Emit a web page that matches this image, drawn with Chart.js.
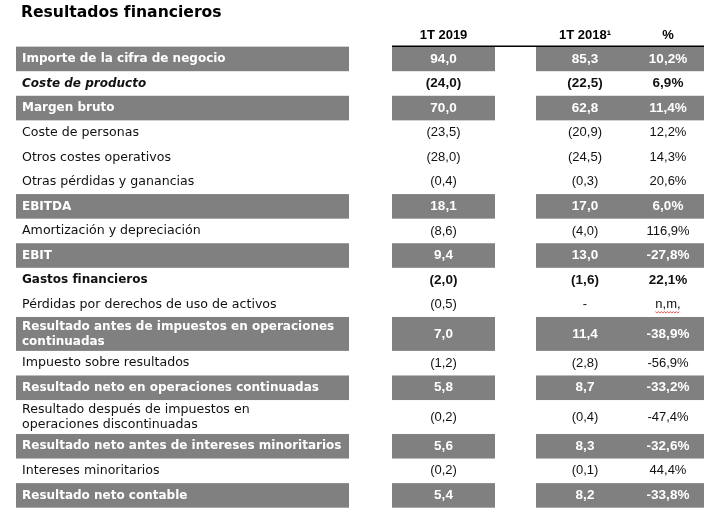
<!DOCTYPE html>
<html lang="es">
<head>
<meta charset="utf-8">
<title>Resultados financieros</title>
<script src="https://cdn.jsdelivr.net/npm/chart.js"></script>
<style>
  html, body { margin: 0; padding: 0; background: #fff; }
  #wrap { width: 720px; height: 521px; position: relative; }
</style>
</head>
<body>
<div id="wrap"><canvas id="resultados"></canvas></div>
<script>
const rowLabels = [
    'Importe de la cifra de negocio',
    'Coste de producto',
    'Margen bruto',
    'Coste de personas',
    'Otros costes operativos',
    'Otras pérdidas y ganancias',
    'EBITDA',
    'Amortización y depreciación',
    'EBIT',
    'Gastos financieros',
    'Pérdidas por derechos de uso de activos',
    'Resultado antes de impuestos en operaciones\ncontinuadas',
    'Impuesto sobre resultados',
    'Resultado neto en operaciones continuadas',
    'Resultado después de impuestos en\noperaciones discontinuadas',
    'Resultado neto antes de intereses minoritarios',
    'Intereses minoritarios',
    'Resultado neto contable'
];
const q1_2019 = [94.0, -24.0, 70.0, -23.5, -28.0, -0.4, 18.1, -8.6, 9.4, -2.0, -0.5, 7.0, -1.2, 5.8, -0.2, 5.6, -0.2, 5.4];
const q1_2018 = [85.3, -22.5, 62.8, -20.9, -24.5, -0.3, 17.0, -4.0, 13.0, -1.6, null, 11.4, -2.8, 8.7, -0.4, 8.3, -0.1, 8.2];
const pctChange = [10.2, 6.9, 11.4, 12.2, 14.3, 20.6, 6.0, 116.9, -27.8, 22.1, null, -38.9, -56.9, -33.2, -47.4, -32.6, 44.4, -33.8];
const columnHeaders = ['1T 2019', '1T 2018¹', '%'];
// what kind of line each row is in the report
const rowKinds = ['total', 'boldItalic', 'total', 'plain', 'plain', 'plain', 'total', 'plain', 'total',
    'bold', 'plain', 'total', 'plain', 'total', 'plain', 'total', 'plain', 'total'];

const GREY = '#808080';
const INK = '#111';
const LABEL_FONT = '"DejaVu Sans", Verdana, sans-serif';
const NUM_FONT = '"Liberation Sans", Arial, sans-serif';

// table layout, x in canvas units
const layout = {
    labelBox: [16, 349],
    labelX: 22,
    box2019: [392, 495],
    box2018: [536, 704],
    colCenters: [443.5, 585, 668],
    doubleRow: 1.38,
    linePitch: 15
};

function fmtNum(v) {
    if (v === null) return '-';
    const s = Math.abs(v).toFixed(1).replace('.', ',');
    return v < 0 ? '(' + s + ')' : s;
}
function fmtPct(v) {
    if (v === null) return 'n,m,';
    return v.toFixed(1).replace('.', ',') + '%';
}

const labelLines = rowLabels.map(l => l.split('\n'));
const rowStart = [];
let acc = 0;
labelLines.forEach(lines => {
    rowStart.push(acc);
    acc += lines.length > 1 ? layout.doubleRow : 1;
});
const totalUnits = acc;

const tablePlugin = {
    id: 'tablePlugin',
    afterDraw(chart) {
        const {ctx, scales: {x, y}} = chart;
        ctx.save();
        ctx.textBaseline = 'middle';

        rowLabels.forEach((_, i) => {
            const kind = rowKinds[i];
            const lines = labelLines[i];
            const units = lines.length > 1 ? layout.doubleRow : 1;
            const y0 = y.getPixelForValue(rowStart[i]);
            const y1 = y.getPixelForValue(rowStart[i] + units);
            const yc = (y0 + y1) / 2;
            const total = kind === 'total';

            if (total) {
                ctx.fillStyle = GREY;
                [layout.labelBox, layout.box2019, layout.box2018].forEach(([a, b]) => {
                    const p0 = x.getPixelForValue(a);
                    const p1 = x.getPixelForValue(b);
                    ctx.fillRect(p0, y0, p1 - p0, y1 - y0);
                });
            }

            const weight = kind === 'plain' ? 'normal' : 'bold';
            const style = kind === 'boldItalic' ? 'italic ' : '';
            ctx.fillStyle = total ? '#fff' : INK;

            // label
            ctx.textAlign = 'left';
            ctx.font = style + weight + ' ' + (weight === 'bold' ? 12 : 12.6) + 'px ' + LABEL_FONT;
            lines.forEach((line, k) => {
                const off = (k - (lines.length - 1) / 2) * layout.linePitch;
                ctx.fillText(line, x.getPixelForValue(layout.labelX), yc + off);
            });

            // values
            ctx.textAlign = 'center';
            ctx.font = weight + ' ' + (weight === 'bold' ? 13.5 : 13) + 'px ' + NUM_FONT;
            const cells = [fmtNum(q1_2019[i]), fmtNum(q1_2018[i]), fmtPct(pctChange[i])];
            cells.forEach((txt, c) => {
                ctx.fillText(txt, x.getPixelForValue(layout.colCenters[c]), yc);
            });

            // spell-check squiggle under the "n,m," mark
            if (pctChange[i] === null) {
                const cx = x.getPixelForValue(layout.colCenters[2]);
                const w = ctx.measureText(cells[2]).width;
                ctx.strokeStyle = '#e0403a';
                ctx.lineWidth = 0.9;
                ctx.beginPath();
                let up = true;
                for (let px = cx - w / 2; px <= cx + w / 2; px += 1.5) {
                    const py = yc + 7 + (up ? 0 : 1.2);
                    if (px === cx - w / 2) ctx.moveTo(px, py); else ctx.lineTo(px, py);
                    up = !up;
                }
                ctx.stroke();
            }
        });

        // rule under the column headers
        const top = y.getPixelForValue(0);
        ctx.strokeStyle = '#000';
        ctx.lineWidth = 1.5;
        ctx.beginPath();
        ctx.moveTo(x.getPixelForValue(layout.box2019[0]), top - 0.4);
        ctx.lineTo(x.getPixelForValue(layout.box2018[1]), top - 0.4);
        ctx.stroke();

        ctx.restore();
    }
};

function generateTable() {
    new Chart(document.getElementById('resultados'), {
        type: 'bar',
        data: { labels: [], datasets: [] },
        options: {
            responsive: true,
            maintainAspectRatio: false,
            animation: false,
            events: [],
            layout: { padding: { left: 21, right: 0, top: 0, bottom: 13.3 } },
            plugins: {
                legend: { display: false },
                tooltip: { enabled: false },
                title: {
                    display: true,
                    text: 'Resultados financieros',
                    align: 'start',
                    color: '#000',
                    font: { family: LABEL_FONT, size: 15.6, weight: 'bold', lineHeight: 1.2 },
                    padding: { top: 3.5, bottom: 1.16 }
                }
            },
            scales: {
                x: {
                    type: 'linear',
                    position: 'top',
                    offset: false,
                    min: 21,
                    max: 720,
                    grid: { display: false, drawTicks: false, offset: false },
                    border: { display: false },
                    afterBuildTicks: axis => {
                        axis.ticks = layout.colCenters.map(v => ({ value: v }));
                    },
                    afterFit: axis => {
                        axis.paddingLeft = 0;
                        axis.paddingRight = 0;
                    },
                    ticks: {
                        autoSkip: false,
                        maxRotation: 0,
                        padding: 3.82,
                        color: '#000',
                        font: { family: NUM_FONT, size: 13, weight: 'bold', lineHeight: 1.2 },
                        callback: (v, i) => columnHeaders[i]
                    }
                },
                y: { type: 'linear', display: false, reverse: true, min: 0, max: totalUnits }
            }
        },
        plugins: [tablePlugin]
    });
}

document.addEventListener('DOMContentLoaded', () => generateTable());
</script>
</body>
</html>
